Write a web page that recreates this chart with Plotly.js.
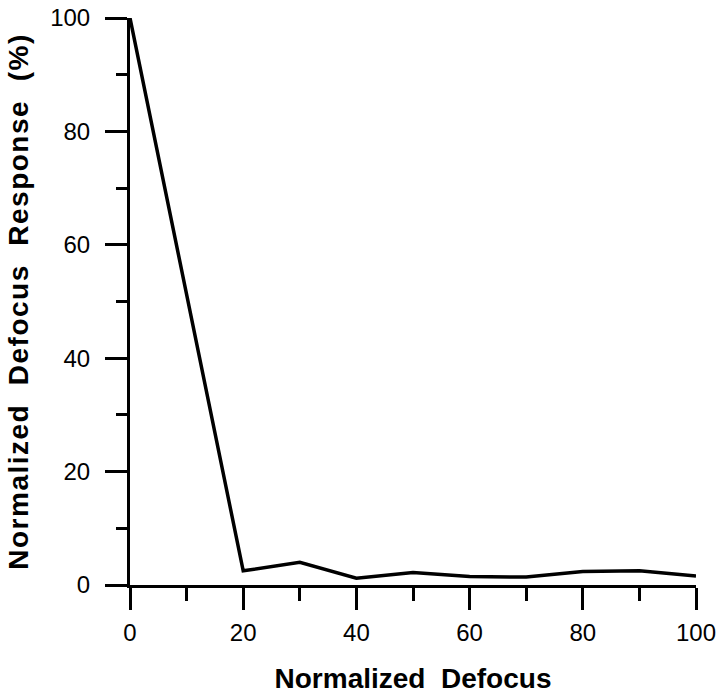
<!DOCTYPE html>
<html><head><meta charset="utf-8">
<script src="https://cdn.plot.ly/plotly-3.0.1.min.js"></script>
<style>html,body{margin:0;padding:0;background:#fff}#chart{width:722px;height:694px}
.ytitle{letter-spacing:1.5px}</style>
</head><body><div id="chart"></div>
<script>
const defocus = [0, 10, 20, 30, 40, 50, 60, 70, 80, 90, 100];
const response = [100, 51, 2.5, 4.0, 1.2, 2.2, 1.5, 1.4, 2.4, 2.5, 1.6];
const xTicks = [0, 20, 40, 60, 80, 100];
const yTicks = [0, 20, 40, 60, 80, 100];
const xTitle = 'Normalized\u00a0\u00a0Defocus';
const yTitle = 'Normalized\u00a0\u00a0Defocus\u00a0\u00a0Response\u00a0\u00a0(%)';

const font = 'Liberation Sans, Arial, sans-serif';
Plotly.newPlot('chart', [{
  x: defocus, y: response, type: 'scatter', mode: 'lines',
  line: {color: '#000', width: 3.5}, hoverinfo: 'skip'
}], {
  width: 722, height: 694,
  margin: {l: 130, r: 26, t: 18, b: 109},
  paper_bgcolor: '#fff', plot_bgcolor: '#fff',
  showlegend: false,
  font: {family: font, color: '#000', size: 24},
  xaxis: {
    range: [0, 100], tickvals: xTicks, ticktext: xTicks.map(String),
    showgrid: false, zeroline: false, showline: true, linecolor: '#000', linewidth: 3,
    ticks: 'outside', ticklen: 22, tickwidth: 3, tickcolor: '#000',
    minor: {dtick: 10, ticks: 'outside', ticklen: 13, tickwidth: 3, tickcolor: '#000', showgrid: false},
    tickfont: {size: 24, family: font}, ticklabelstandoff: 2,
    title: {text: xTitle, font: {size: 28, family: font, weight: 'bold'}, standoff: 24}
  },
  yaxis: {
    range: [0, 100], tickvals: yTicks, ticktext: yTicks.map(String),
    showgrid: false, zeroline: false, showline: true, linecolor: '#000', linewidth: 3,
    ticks: 'outside', ticklen: 22, tickwidth: 3, tickcolor: '#000',
    minor: {dtick: 10, ticks: 'outside', ticklen: 11, tickwidth: 3, tickcolor: '#000', showgrid: false},
    tickfont: {size: 24, family: font}, ticklabelstandoff: 10,
    title: {text: yTitle, font: {size: 28, family: font, weight: 'bold'}, standoff: 14}
  }
}, {staticPlot: true});
</script></body></html>
